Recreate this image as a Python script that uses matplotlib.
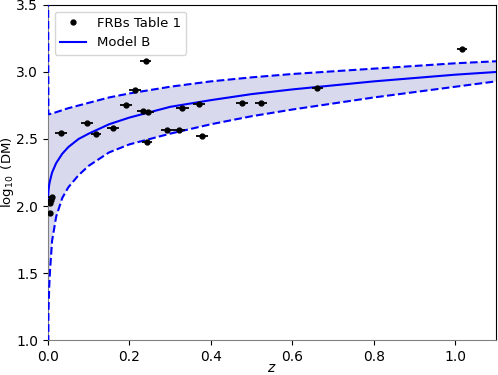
import numpy as np
import matplotlib
matplotlib.use("Agg")
import matplotlib.pyplot as plt
from matplotlib.lines import Line2D

# FRB points
frb_z = [0.009, 0.007, 0.006, 0.005, 0.032, 0.096, 0.118, 0.160, 0.192, 0.214,
         0.233, 0.245, 0.240, 0.243, 0.292, 0.322, 0.330, 0.370, 0.378, 0.477,
         0.523, 0.661, 1.016]
frb_logdm = [2.07, 2.045, 2.02, 1.945, 2.545, 2.62, 2.535, 2.58, 2.75, 2.865,
             2.71, 2.70, 3.085, 2.48, 2.565, 2.565, 2.73, 2.76, 2.52, 2.77,
             2.77, 2.88, 3.17]
frb_zerr = [0.009, 0.008, 0.007, 0.006, 0.015, 0.015, 0.013, 0.015, 0.015, 0.015,
            0.015, 0.015, 0.013, 0.013, 0.015, 0.015, 0.015, 0.015, 0.015, 0.015,
            0.015, 0.013, 0.013]

# Model B curve and band
model_z = [0.0, 0.001, 0.003, 0.005, 0.01, 0.02, 0.035, 0.05, 0.075, 0.1,
           0.15, 0.2, 0.3, 0.4, 0.5, 0.6, 0.7, 0.8, 0.9, 1.0, 1.1]
model_mid = [2.04, 2.11, 2.16, 2.19, 2.25, 2.32, 2.39, 2.44, 2.50, 2.54,
             2.61, 2.66, 2.74, 2.79, 2.835, 2.87, 2.90, 2.93, 2.955, 2.98, 3.0]
model_hi = [4.0, 2.685, 2.685, 2.687, 2.69, 2.70, 2.715, 2.73, 2.75, 2.77,
            2.81, 2.84, 2.89, 2.93, 2.96, 2.985, 3.005, 3.025, 3.045, 3.065, 3.08]
model_lo = [0.0, 1.20, 1.40, 1.52, 1.74, 1.92, 2.06, 2.14, 2.23, 2.30,
            2.40, 2.46, 2.54, 2.61, 2.67, 2.72, 2.765, 2.81, 2.85, 2.89, 2.93]

fig = plt.figure(figsize=(4.98, 3.75), dpi=100)
ax = fig.add_axes([0.0964, 0.0933, 0.8996, 0.8934])

ax.fill_between(model_z, model_lo, model_hi, color="darkblue", alpha=0.15, lw=0)
ax.plot(model_z, model_mid, color="blue", lw=1.5, zorder=3)
ax.plot(model_z, model_hi, color="blue", lw=1.5, ls="--", zorder=3)
ax.plot(model_z, model_lo, color="blue", lw=1.5, ls="--", zorder=3)

ax.errorbar(frb_z, frb_logdm, xerr=frb_zerr, fmt="o", color="black",
            ms=3.5, elinewidth=1.3, capsize=0, zorder=4)

ax.set_xlim(0, 1.1)
ax.set_ylim(1.0, 3.5)
ax.set_xticks([0.0, 0.2, 0.4, 0.6, 0.8, 1.0])
ax.set_yticks([1.0, 1.5, 2.0, 2.5, 3.0, 3.5])
ax.tick_params(labelsize=10)
ax.set_xlabel("$z$", labelpad=-2)
ax.set_ylabel(r"$\log_{10}$ (DM)", fontsize=9.5)
ax.yaxis.set_label_coords(-0.072, 0.5)
for s in ["left", "bottom"]:
    ax.spines[s].set_color("#808080")

handles = [Line2D([], [], ls="none", marker="o", ms=3.5, color="black"),
           Line2D([], [], color="blue", lw=1.5)]
ax.legend(handles, ["FRBs Table 1", "Model B"], loc="upper left", fontsize=9.5)

fig.savefig("out.png", dpi=100)
